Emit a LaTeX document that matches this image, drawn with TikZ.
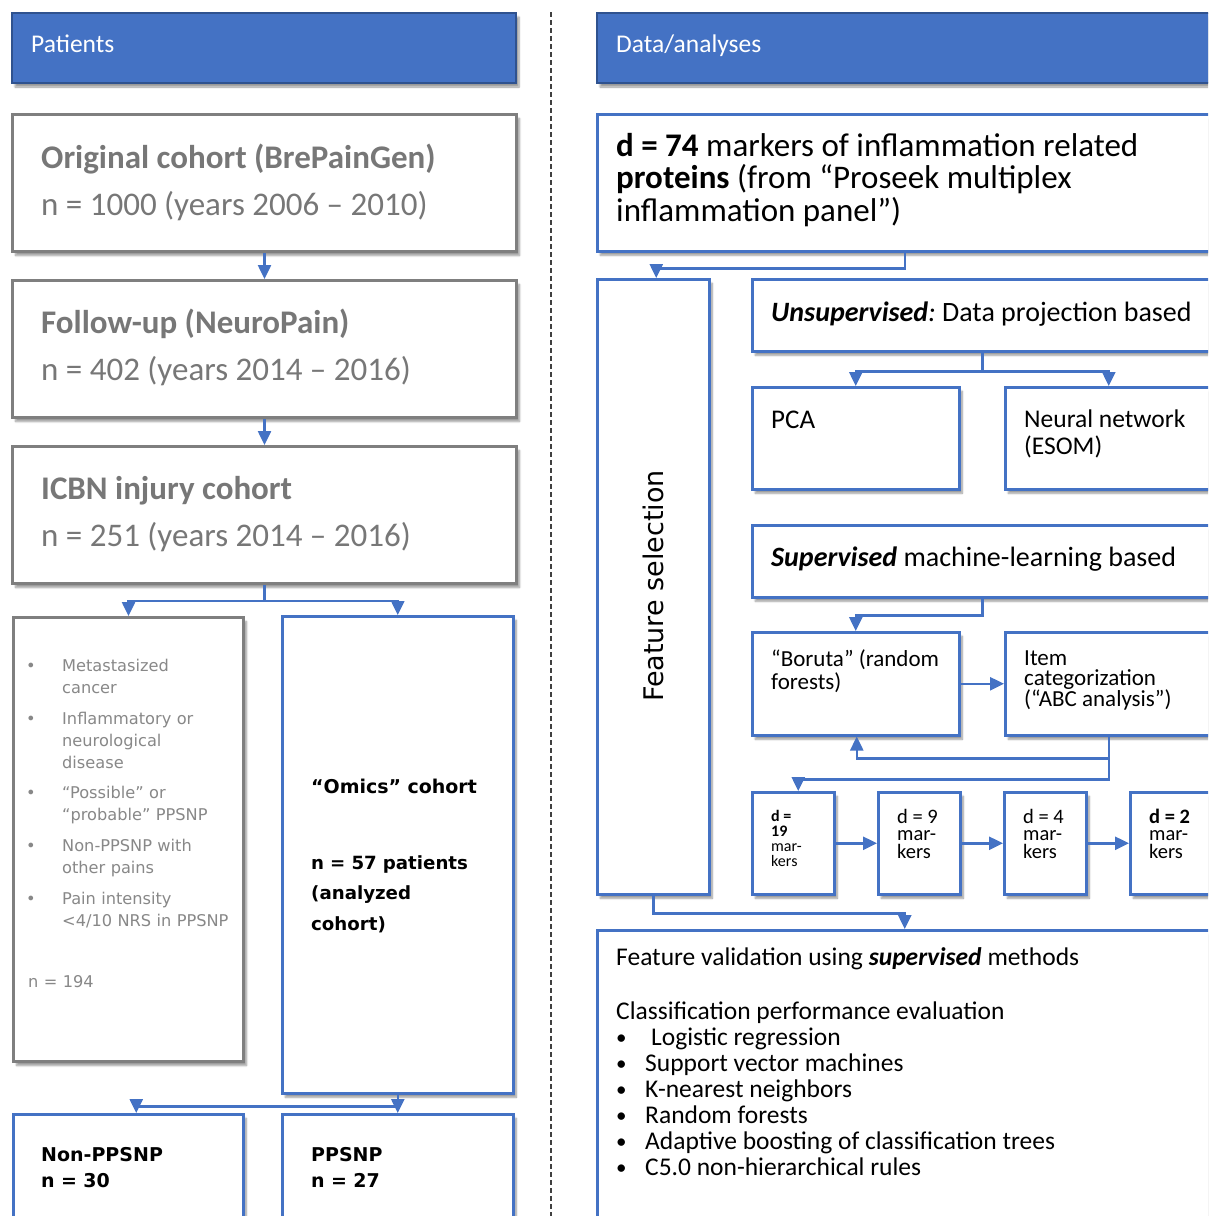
\documentclass[tikz,border=0pt]{standalone}
\usepackage{fontspec}
\setmainfont{Carlito}
\newfontfamily\verd{DejaVu Sans}
\usetikzlibrary{arrows.meta,shadows.blur}
\definecolor{blu}{HTML}{4472C4}
\definecolor{blud}{HTML}{2F528F}
\definecolor{gbord}{HTML}{7F7F7F}
\definecolor{gtext}{HTML}{777777}
\definecolor{gtext2}{HTML}{888888}
\newcommand{\csp}{\spaceskip=.226em plus .08em minus .04em\xspaceskip=.226em\relax}
\begin{document}
\begin{tikzpicture}[x=1pt,y=-1pt,
  shad/.style={blur shadow={shadow xshift=3pt,shadow yshift=-4pt,shadow blur steps=6,shadow opacity=40}},
  hdr/.style={draw=blud,line width=2pt,fill=blu,shad,anchor=north west,inner sep=0pt},
  gbox/.style={draw=gbord,line width=3pt,fill=white,shad,anchor=north west,inner sep=0pt},
  bbox/.style={draw=blu,line width=2.5pt,fill=white,shad,anchor=north west,inner sep=0pt},
  arr/.style={draw=blu,line width=2.5pt,-{Triangle[length=14pt,width=13pt]}},
  txt/.style={anchor=base west,inner sep=0pt,text width=600pt},
  ctxt/.style={txt,execute at begin node={\csp}},
  hdrtxt/.style={ctxt,text=white,font=\fontsize{25.5}{30}\selectfont},
  gtitle/.style={ctxt,text=gtext,font=\fontsize{33}{47}\selectfont},
  excl/.style={txt,text=gtext2,font=\verd\fontsize{16.2}{22}\selectfont},
  bold19/.style={txt,font=\verd\bfseries\fontsize{19}{26}\selectfont},
]
\path[use as bounding box,clip] (0,0) rectangle (1208,1216);

% divider
\draw[line width=1.2pt,black!75,dash pattern=on 5pt off 3pt] (551,12) -- (551,1216);

% ---------- left column ----------
\node[hdr,minimum width=504pt,minimum height=70pt] (hp) at (11,12) {};
\node[hdrtxt] (hpt) at (31,52) {Patients};

\node[gbox,minimum width=504pt,minimum height=137pt] (b1) at (11,113) {};
\node[gtitle] (b1t) at (41,168) {\textbf{Original cohort (BrePainGen)}\\n = 1000 (years 2006 – 2010)};
\node[gbox,minimum width=504pt,minimum height=137pt] (b2) at (11,279) {};
\node[gtitle] (b2t) at (41,333) {\textbf{Follow-up (NeuroPain)}\\n = 402 (years 2014 – 2016)};
\node[gbox,minimum width=504pt,minimum height=137pt] (b3) at (11,445) {};
\node[gtitle] (b3t) at (41,499) {\textbf{ICBN injury cohort}\\n = 251 (years 2014 – 2016)};

\node[gbox,minimum width=230pt,minimum height=444pt] (ex) at (12,616) {};
\node[bbox,minimum width=231pt,minimum height=477pt] (om) at (281,615) {};
\node[bbox,minimum width=230pt,minimum height=140pt] (non) at (12,1113) {};
\node[bbox,minimum width=231pt,minimum height=140pt] (pp) at (281,1113) {};

\foreach \yb/\tx [count=\i] in {671/{Metastasized\\cancer},724/{Inflammatory or\\neurological\\disease},798/{“Possible” or\\“probable” PPSNP},851/{Non-PPSNP with\\other pains},904/{Pain intensity\\<4/10 NRS in PPSNP}}{
  \node[excl] (exb\i) at (26,\yb) {•};
  \node[excl] (ext\i) at (62,\yb) {\tx};
}
\node[excl] (exn) at (28,987) {n = 194};

\node[bold19] (omt1) at (311,793) {“Omics” cohort};
\node[txt,font=\verd\bfseries\fontsize{18.2}{30.5}\selectfont] (omt2) at (311,869) {n = 57 patients\\(analyzed\\cohort)};
\node[bold19] (nont) at (41,1161) {Non-PPSNP\\n = 30};
\node[bold19] (ppt) at (311,1161) {PPSNP\\n = 27};

\draw[arr] (b1.south) -- (b2.north);
\draw[arr] (b2.south) -- (b3.north);
\draw[arr] (b3.south) -- ++(0,16) -| (ex.north);
\draw[arr] (b3.south) -- ++(0,16) -| (om.north);
\draw[arr] (om.south) -- ++(0,12) -| ([xshift=8pt]non.north);
\draw[arr] (om.south) -- (pp.north);

% ---------- right column ----------
\node[hdr,minimum width=615pt,minimum height=70pt] (hd) at (596,12) {};
\node[hdrtxt] (hdt) at (616,52) {Data/analyses};

\node[bbox,minimum width=615pt,minimum height=137pt] (d74) at (596,113) {};
\node[ctxt,font=\fontsize{33}{32.5}\selectfont] (d74t) at (616,156) {\textbf{d = 74} markers of inflammation related\\\textbf{proteins} (from “Proseek multiplex\\inflammation panel”)};

\node[bbox,minimum width=112pt,minimum height=615pt] (fs) at (596,278) {};
\node[rotate=90,anchor=base,inner sep=0pt,font=\verd\fontsize{27}{32}\selectfont] (fst) at (663,586) {Feature selection};

\node[bbox,minimum width=460pt,minimum height=72pt] (un) at (751,278) {};
\node[ctxt,font=\fontsize{28}{32}\selectfont] (unt) at (771,321) {\textbf{\textit{Unsupervised}}\textit{:} Data projection based};
\node[bbox,minimum width=207pt,minimum height=102pt] (pca) at (751,386) {};
\node[ctxt,font=\fontsize{27}{27}\selectfont] (pcat) at (771,428) {PCA};
\node[bbox,minimum width=207pt,minimum height=102pt] (nn) at (1004,386) {};
\node[ctxt,font=\fontsize{25.5}{27}\selectfont] (nnt) at (1024,427) {Neural network\\(ESOM)};

\node[bbox,minimum width=460pt,minimum height=72pt] (su) at (751,524) {};
\node[ctxt,font=\fontsize{28}{32}\selectfont] (sut) at (771,566) {\textbf{\textit{Supervised}} machine-learning based};
\node[bbox,minimum width=207pt,minimum height=103pt] (bo) at (751,631) {};
\node[ctxt,font=\fontsize{23}{23}\selectfont] (bot) at (771,666) {“Boruta” (random\\forests)};
\node[bbox,minimum width=207pt,minimum height=103pt] (it) at (1004,631) {};
\node[ctxt,font=\fontsize{23}{20}\selectfont] (itt) at (1024,665) {Item\\categorization\\(“ABC analysis”)};

\node[bbox,minimum width=82pt,minimum height=102pt] (m19) at (751,791) {};
\node[bbox,minimum width=82pt,minimum height=102pt] (m9) at (877,791) {};
\node[bbox,minimum width=82pt,minimum height=102pt] (m4) at (1003,791) {};
\node[bbox,minimum width=82pt,minimum height=102pt] (m2) at (1129,791) {};
\node[ctxt,font=\fontsize{16}{15}\selectfont] (m19t) at (771,821) {\textbf{d =}\\\textbf{19}\\mar-\\kers};
\node[ctxt,font=\fontsize{20.5}{17.5}\selectfont] (m9t) at (897,823) {d = 9\\mar-\\kers};
\node[ctxt,font=\fontsize{20.5}{17.5}\selectfont] (m4t) at (1023,823) {d = 4\\mar-\\kers};
\node[ctxt,font=\fontsize{20.5}{17.5}\selectfont] (m2t) at (1149,823) {\textbf{d = 2}\\mar-\\kers};

\node[bbox,minimum width=615pt,minimum height=320pt] (fv) at (596,929) {};
\node[ctxt,font=\fontsize{25.5}{26}\selectfont] (fvt1) at (616,965) {Feature validation using \textbf{\textit{supervised}} methods};
\node[ctxt,font=\fontsize{25.5}{26}\selectfont] (fvt2) at (616,1019) {Classification performance evaluation};
\node[ctxt,font=\fontsize{21}{26}\selectfont] (fvb) at (616,1044) {•\\•\\•\\•\\•\\•};
\node[ctxt,font=\fontsize{25.5}{26}\selectfont] (fvl) at (645,1045) {\hspace*{6pt}Logistic regression\\Support vector machines\\K-nearest neighbors\\Random forests\\Adaptive boosting of classification trees\\C5.0 non-hierarchical rules};

\draw[arr] (d74.south) -- ++(0,16) -| ([xshift=3pt]fs.north);
\draw[arr] (un.south) -- ++(0,19) -| (pca.north);
\draw[arr] (un.south) -- ++(0,19) -| (nn.north);
\draw[arr] (su.south) -- ++(0,17) -| (bo.north);
\draw[arr] (bo.east) -- (it.west);
\draw[arr] (it.south) -- ++(0,22) -| ([xshift=1pt]bo.south);
\draw[arr] (it.south) -- ++(0,43) -| ([xshift=5pt]m19.north);
\draw[arr] (m19.east) -- (m9.west);
\draw[arr] (m9.east) -- (m4.west);
\draw[arr] (m4.east) -- (m2.west);
\draw[arr] (fs.south) -- ++(0,18) -| (fv.north);
\end{tikzpicture}
\end{document}
